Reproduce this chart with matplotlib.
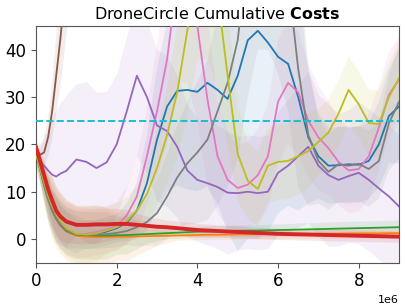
import numpy as np
import matplotlib
matplotlib.use('Agg')
import matplotlib.pyplot as plt

# env steps (millions)
steps_m = [0, 0.1, 0.2, 0.3, 0.4, 0.5, 0.6, 0.75, 1.0, 1.25, 1.5, 1.75, 2.0, 2.25, 2.5, 2.75,
           3.0, 3.25, 3.5, 3.75, 4.0, 4.25, 4.5, 4.75, 5.0, 5.25, 5.5, 5.75, 6.0, 6.25, 6.5, 6.75,
           7.0, 7.25, 7.5, 7.75, 8.0, 8.25, 8.5, 8.75, 9.0]

blue_mean = [18.5, 15.5, 12.0, 9.0, 6.6, 4.8, 3.4, 2.0, 1.0, 0.9, 1.1, 1.6, 2.3, 3.5, 6.0, 11.8,
             21.0, 28.0, 31.3, 31.5, 31.1, 33.0, 31.5, 29.6, 34.5, 42.0, 44.0, 41.5, 38.5, 37.0, 30.0, 21.5,
             17.5, 15.5, 15.6, 15.8, 15.7, 16.5, 20.0, 26.0, 28.0]
blue_std = [2, 3, 3, 4, 4, 4, 4, 4, 3, 3, 3, 3, 3, 4, 6, 10,
            15, 18, 20, 21, 21, 22, 24, 28, 37, 42, 44, 40, 33, 30, 24, 14,
            9, 8, 8, 8, 8, 8, 9, 10, 12]

orange_mean = [18.5, 15.0, 11.5, 8.5, 6.0, 4.2, 2.9, 1.6, 0.7, 0.5, 0.45, 0.45, 0.5, 0.5, 0.55, 0.6,
               0.65, 0.7, 0.75, 0.8, 0.85, 0.9, 0.9, 0.95, 1.0, 1.0, 1.0, 1.05, 1.05, 1.1, 1.1, 1.1,
               1.15, 1.15, 1.15, 1.2, 1.2, 1.2, 1.2, 1.25, 1.25]
orange_std = [2, 3, 4, 5, 6, 6, 6, 6, 6, 6, 6, 6, 5, 5, 4, 3,
              2, 1.5, 1, 1, 1, 1, 1, 1, 1, 1, 1, 1, 1, 1, 1, 1,
              1, 1, 1, 1, 1, 1, 1, 1, 1]

green_mean = [18.0, 14.8, 11.3, 8.4, 6.0, 4.3, 3.0, 1.7, 0.9, 0.8, 0.75, 0.75, 0.8, 0.85, 0.95, 1.05,
              1.15, 1.25, 1.35, 1.45, 1.55, 1.6, 1.65, 1.7, 1.75, 1.8, 1.8, 1.85, 1.9, 1.95, 2.0, 2.05,
              2.1, 2.15, 2.2, 2.25, 2.3, 2.35, 2.4, 2.45, 2.5]
green_std = [2, 3, 4, 5, 5, 5, 5, 5, 5, 5, 5, 5, 4, 4, 3, 2,
             1.5, 1.2, 1.2, 1.2, 1.2, 1.2, 1.2, 1.2, 1.2, 1.2, 1.2, 1.3, 1.3, 1.3, 1.4, 1.4,
             1.4, 1.5, 1.5, 1.5, 1.5, 1.5, 1.5, 1.5, 1.5]

red_mean = [19.3, 16.5, 13.5, 10.5, 8.2, 6.0, 4.8, 3.7, 3.0, 3.0, 3.1, 3.1, 3.2, 3.2, 3.0, 2.8,
            2.6, 2.5, 2.3, 2.1, 1.9, 1.8, 1.7, 1.6, 1.5, 1.4, 1.3, 1.2, 1.1, 1.05, 1.0, 0.95,
            0.9, 0.85, 0.8, 0.75, 0.7, 0.65, 0.6, 0.55, 0.5]
red_std = [1.5, 2, 3, 4, 5, 5, 5, 4.5, 4, 4, 4, 3.5, 3.2, 3, 2.5, 2,
           1.8, 1.5, 1.5, 1.5, 1.4, 1.4, 1.3, 1.3, 1.3, 1.2, 1.2, 1.2, 1.2, 1.2, 1.2, 1.2,
           1.2, 1.2, 1.2, 1.2, 1.2, 1.2, 1.2, 1.2, 1.2]

purple_mean = [17.8, 16.5, 15.5, 14.5, 13.6, 13.2, 13.8, 14.4, 16.8, 16.3, 15.0, 16.2, 20.0, 27.0, 34.5, 30.0,
               24.0, 22.8, 19.5, 14.5, 12.5, 11.8, 11.0, 9.8, 9.7, 10.0, 9.7, 10.0, 14.0, 15.5, 17.5, 19.5,
               15.5, 13.5, 12.5, 13.3, 14.0, 12.5, 10.7, 9.0, 6.9]
purple_std = [1, 3, 6, 9, 12, 14, 15, 16, 16, 17, 16, 15, 15, 16, 17, 16,
              16, 16, 15, 14, 13, 13, 13, 13, 12, 12, 12, 12, 13, 14, 15, 16,
              15, 15, 14, 14, 15, 15, 15, 15, 15]

brown_mean = [19.0, 17.8, 18.3, 21.5, 27.0, 34.5, 42.0, 55.0, 70, 80, 85, 90, 90, 90, 90, 90,
              90, 90, 90, 90, 90, 90, 90, 90, 90, 90, 90, 90, 90, 90, 90, 90,
              90, 90, 90, 90, 90, 90, 90, 90, 90]
brown_std = [1.5, 2, 3, 4, 6, 8, 10, 12, 15, 15, 15, 15, 15, 15, 15, 15,
             15, 15, 15, 15, 15, 15, 15, 15, 15, 15, 15, 15, 15, 15, 15, 15,
             15, 15, 15, 15, 15, 15, 15, 15, 15]

pink_mean = [18.2, 15.2, 11.7, 8.6, 6.2, 4.4, 3.1, 1.9, 1.0, 1.1, 1.5, 2.0, 2.8, 5.0, 9.0, 17.5,
             27.0, 38.0, 55.0, 55.0, 45.0, 29.5, 17.5, 12.5, 10.8, 11.5, 13.5, 17.5, 29.0, 33.0, 31.0, 25.0,
             21.5, 19.2, 16.3, 14.5, 14.8, 17.5, 23.5, 30.5, 33.7]
pink_std = [2, 3, 3, 4, 4, 5, 5, 5, 5, 5, 5, 5, 5, 6, 8, 10,
            14, 18, 22, 22, 20, 18, 12, 10, 9, 9, 10, 11, 13, 13, 13, 12,
            11, 10, 9, 9, 9, 9, 9, 9, 9]

gray_mean = [18.0, 14.9, 11.5, 8.5, 6.1, 4.3, 3.0, 1.8, 1.0, 0.9, 0.95, 1.05, 1.3, 1.7, 2.5, 3.6,
             5.5, 9.0, 13.0, 16.0, 18.3, 21.0, 27.0, 33.0, 42.0, 60.0, 70.0, 70.0, 65.0, 55.0, 36.0, 22.0,
             16.5, 14.2, 15.8, 15.5, 15.9, 14.8, 16.5, 24.5, 29.0]
gray_std = [3, 3, 3, 4, 4, 4, 4, 4, 4, 3, 3, 3, 3, 3, 4, 5,
            7, 9, 11, 13, 15, 17, 20, 22, 25, 30, 30, 30, 30, 28, 25, 15,
            9, 8, 8, 8, 8, 8, 8, 10, 12]

olive_mean = [18.0, 15.0, 12.0, 9.2, 7.0, 5.2, 3.8, 2.3, 1.1, 0.95, 1.2, 1.8, 2.5, 3.8, 6.0, 9.5,
              15.0, 22.0, 31.0, 44.0, 60.0, 60.0, 52.0, 34.5, 18.0, 12.3, 10.6, 15.5, 16.3, 16.5, 17.5, 18.6,
              20.5, 22.5, 26.5, 31.5, 28.5, 24.5, 24.3, 30.0, 34.0]
olive_std = [2, 3, 4, 5, 6, 6, 6, 6, 6, 6, 6, 5, 5, 5, 5, 6,
             8, 10, 14, 18, 22, 22, 20, 15, 10, 8, 8, 8, 8, 8, 8, 8,
             7, 7, 7, 7, 7, 7, 7, 7, 8]

threshold = 25

series = [
    (blue_mean, blue_std, 'tab:blue', 1.3),
    (orange_mean, orange_std, 'tab:orange', 1.3),
    (green_mean, green_std, 'tab:green', 1.3),
    (purple_mean, purple_std, 'tab:purple', 1.3),
    (brown_mean, brown_std, 'tab:brown', 1.3),
    (pink_mean, pink_std, 'tab:pink', 1.3),
    (gray_mean, gray_std, 'tab:gray', 1.3),
    (olive_mean, olive_std, 'tab:olive', 1.3),
    (red_mean, red_std, 'tab:red', 2.8),
]

steps = np.array(steps_m) * 1e6

fig = plt.figure(figsize=(4.07, 3.08), dpi=100)
ax = fig.add_axes([0.0885, 0.147, 0.8919, 0.7685])

# shaded std bands first, lines on top
for mean, std, color, lw in series:
    mean = np.array(mean)
    std = np.array(std)
    ax.fill_between(steps, mean - std, mean + std, color=color, alpha=0.1, lw=0, zorder=1)

for mean, std, color, lw in series:
    ax.plot(steps, mean, color=color, lw=lw, zorder=3)

ax.axhline(threshold, color='tab:cyan', ls='--', lw=1.4, zorder=4)

ax.set_xlim(0, 9e6)
ax.set_ylim(-5, 45)
ax.set_xticks([0, 2e6, 4e6, 6e6, 8e6])
ax.set_yticks([0, 10, 20, 30, 40])
ax.tick_params(labelsize=12, color='#555555')
ax.xaxis.get_offset_text().set_fontsize(8)
for s in ax.spines.values():
    s.set_color('#555555')

ax.set_title(r'DroneCircle Cumulative $\bf{Costs}$', fontsize=11.5, pad=5)

fig.savefig('out.png', dpi=100)
